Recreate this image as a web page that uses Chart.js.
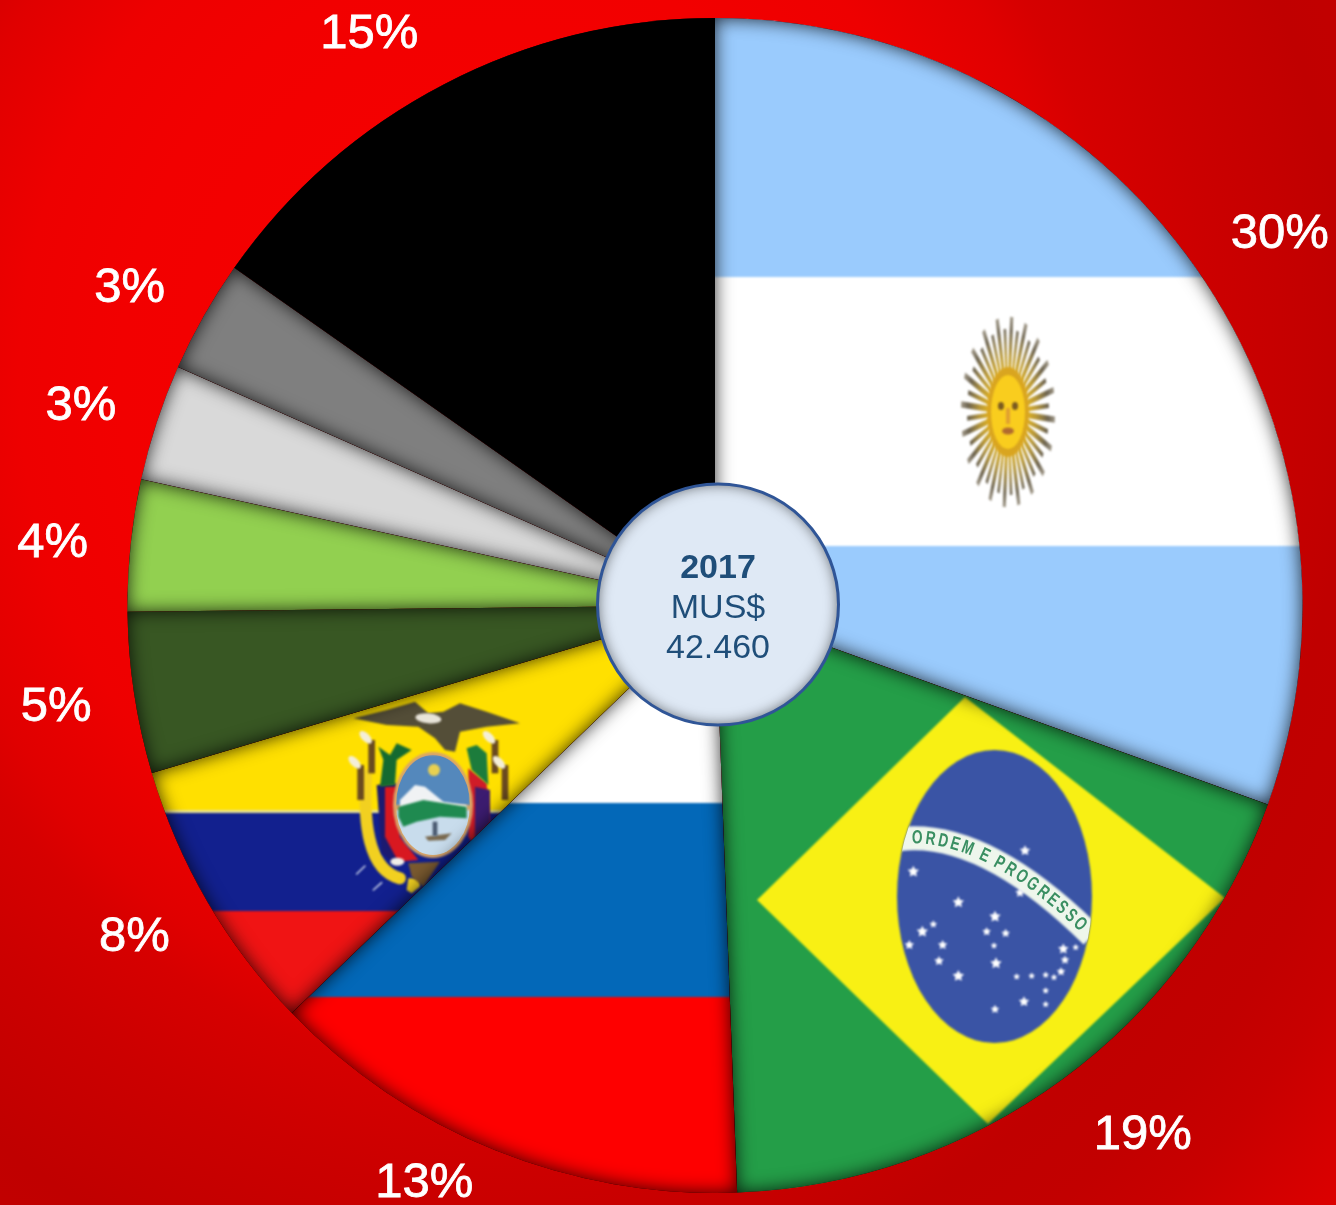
<!DOCTYPE html>
<html><head><meta charset="utf-8">
<style>
html,body{margin:0;padding:0;width:1336px;height:1205px;overflow:hidden;background:#c80000}
canvas{display:block}
</style>
<script src="https://cdn.jsdelivr.net/npm/chart.js@4/dist/chart.umd.min.js"></script>
</head><body><canvas id="c" width="1336" height="1205"></canvas>
<script>
// ---- data ----
const categories = ["Argentina","Brasil","Rusia","Ecuador","Otro A","Otro B","Otro C","Otro D","Resto"];
const shares = [30.5,18.9,13.4,7.6,4.43,3.62,3.2,3.1,15.25];
const shareLabels = ["30%","19%","13%","8%","5%","4%","3%","3%","15%"];
const centerLines = ["2017","MUS$","42.460"];
const bandMotto = "ORDEM E PROGRESSO";

const W=1336,H=1205;
function layer(paint){
  const cv=document.createElement('canvas');cv.width=W;cv.height=H;
  const g=cv.getContext('2d');paint(g);
  return g.createPattern(cv,'no-repeat');
}
function poly(g,pts,fill,ox,oy,s){
  g.beginPath();
  pts.forEach((p,i)=>{const x=ox+p[0]/s,y=oy+p[1]/s;i?g.lineTo(x,y):g.moveTo(x,y);});
  g.closePath();g.fillStyle=fill;g.fill();
}
// each band runs on to the bottom, so the next one is painted over it without a transparent seam
function bands(g,list){ list.forEach(b=>{g.fillStyle=b[1];g.fillRect(-20,b[0],W+40,H+40);}); }

function argentina(g){
  g.filter='blur(1.2px)';
  bands(g,[[-20,'#9acbfd'],[277,'#ffffff'],[546,'#9acbfd']]);
  g.filter='blur(1.3px)';
  const cx=1008,cy=412,n=40;
  g.save();g.translate(cx,cy);g.scale(1,2.03);
  for(let i=0;i<n;i++){
    const a=i/n*Math.PI*2+0.08,wavy=i%2===1;
    g.save();g.rotate(a);
    const grad=g.createLinearGradient(0,0,47,0);
    grad.addColorStop(0.35,'#e8b820');grad.addColorStop(0.6,'#b89838');grad.addColorStop(0.85,'#6d6450');grad.addColorStop(1,'#a09888');
    g.strokeStyle=grad;g.lineWidth=wavy?2.4:3;
    g.beginPath();g.moveTo(14,0);g.lineTo(wavy?41:47,0);g.stroke();
    g.restore();
  }
  g.restore();
  g.filter='blur(1px)';
  g.fillStyle='#d9a520';g.beginPath();g.ellipse(cx,cy,21,45,0,0,7);g.fill();
  g.fillStyle='#f9cd1e';g.beginPath();g.ellipse(cx,cy,17,37,0,0,7);g.fill();
  g.fillStyle='#7a5a20';
  g.beginPath();g.ellipse(cx-7,cy-6,3,4,0,0,7);g.fill();
  g.beginPath();g.ellipse(cx+7,cy-6,3,4,0,0,7);g.fill();
  g.fillStyle='#e0a030';g.fillRect(cx-2,cy-4,4,16);
  g.fillStyle='#b06a30';g.beginPath();g.ellipse(cx,cy+19,6,3.5,0,0,7);g.fill();
  g.filter='none';
}

function brazil(g){
  g.fillStyle='#249e48';g.fillRect(0,0,W,H);
  g.filter='blur(1px)';
  g.fillStyle='#f8f014';g.beginPath();g.moveTo(757,900);g.lineTo(965,697);g.lineTo(1225,898);g.lineTo(988,1124);g.closePath();g.fill();
  const ex=994.5,ey=896.5,rx=97.5,ry=146.5;
  g.fillStyle='#3a54a5';g.beginPath();g.ellipse(ex,ey,rx,ry,0,0,7);g.fill();
  g.save();g.beginPath();g.ellipse(ex,ey,rx,ry,0,0,7);g.clip();
  const p0=[900,839],c=[984.5,829.5],p2=[1092,936];
  g.strokeStyle='#eef6ec';g.lineWidth=24;
  g.beginPath();g.moveTo(p0[0],p0[1]);g.quadraticCurveTo(c[0],c[1],p2[0],p2[1]);g.stroke();
  g.restore();
  g.filter='blur(0.6px)';
  const qp=t=>[(1-t)*(1-t)*p0[0]+2*t*(1-t)*c[0]+t*t*p2[0],(1-t)*(1-t)*p0[1]+2*t*(1-t)*c[1]+t*t*p2[1]];
  g.font='bold 19px "Liberation Sans"';g.fillStyle='#3a8f62';g.textAlign='center';g.textBaseline='middle';
  const N=300,table=[];let L=0,prev=qp(0);
  for(let i=0;i<=N;i++){const p=qp(i/N);L+=Math.hypot(p[0]-prev[0],p[1]-prev[1]);table.push([L,i/N]);prev=p;}
  let dist=10;
  const usable=L-20, total=g.measureText(bandMotto).width, kern=usable/total;
  [...bandMotto].forEach(ch=>{
    const w=g.measureText(ch).width*kern;
    const target=dist+w/2;
    const e=table.find(r=>r[0]>=target)||table[N];
    const t=e[1],p=qp(t),q=qp(Math.min(1,t+0.01)),r=qp(Math.max(0,t-0.01));
    g.save();g.translate(p[0],p[1]);g.rotate(Math.atan2(q[1]-r[1],q[0]-r[0]));g.scale(0.72,1);g.fillText(ch,0,0);g.restore();
    dist+=w;
  });
  g.filter='blur(1px)';
  g.fillStyle='#ffffff';
  [[100,395,6],[235,487,6],[160,553,4],[127,575,6],[88,615,5],[188,615,5],[177,663,5],[235,708,6],
   [345,530,6],[320,575,4.5],[377,580,4.5],[342,617,3.5],[348,670,6],[420,458,5],[435,332,5.5],[410,710,3.5],
   [455,708,3.5],[497,705,3.5],[522,712,3.5],[543,695,4.5],[555,660,4.5],[550,627,5.5],[587,622,3.5],[497,752,3.5],
   [497,793,3.5],[432,785,5.5],[345,808,4.5]].forEach(s=>{
     const x=880+s[0]/3,y=740+s[1]/3,r=s[2];
     g.beginPath();
     for(let i=0;i<10;i++){const a=-Math.PI/2+i*Math.PI/5,q=i%2?r*0.5:r;g.lineTo(x+Math.cos(a)*q,y+Math.sin(a)*q);}
     g.closePath();g.fill();
  });
  g.filter='none';
}

function russia(g){
  g.filter='blur(1px)';
  bands(g,[[-20,'#ffffff'],[803,'#0368b8'],[997,'#fe0000']]);
  g.filter='none';
}

function ecuador(g){
  g.filter='blur(0.9px)';
  bands(g,[[-20,'#ffe000'],[810,'#e8e090'],[813,'#12208e'],[911,'#f01414']]);
  const ox=340,oy=690,s=3;
  g.filter='blur(1px)';
  // yellow strap
  g.strokeStyle='#f2d020';g.lineWidth=12;g.lineCap='round';
  g.beginPath();g.moveTo(ox+78/s,oy+255/s);g.bezierCurveTo(ox+70/s,oy+400/s,ox+85/s,oy+540/s,ox+180/s,oy+565/s);g.stroke();
  // standards
  poly(g,[[110,285],[170,280],[175,530],[125,490]],'#1c1a70',ox,oy,s);
  poly(g,[[135,290],[175,290],[180,440],[235,510],[175,515],[135,440]],'#d81820',ox,oy,s);
  poly(g,[[385,235],[440,280],[450,400],[400,460],[385,440]],'#d01c28',ox,oy,s);
  poly(g,[[405,290],[450,300],[450,400],[405,445]],'#3c1c70',ox,oy,s);
  // palms
  poly(g,[[115,170],[150,195],[170,160],[215,180],[170,210],[165,285],[120,290],[130,210]],'#146a30',ox,oy,s);
  poly(g,[[380,175],[410,165],[440,190],[445,285],[395,240]],'#1c7c3c',ox,oy,s);
  // fasces
  [[95,150,250],[62,225,330],[465,150,250],[495,225,330]].forEach(f=>{
    g.fillStyle='#6a4a20';g.fillRect(ox+(f[0]-10)/s,oy+f[1]/s,20/s,(f[2]-f[1])/s);
    g.fillStyle='#f4eed8';
    g.beginPath();g.ellipse(ox+(f[0]-18)/s,oy+(f[1]-8)/s,8,4,0.8,0,7);g.fill();
  });
  // eagle
  poly(g,[[40,85],[140,60],[225,35],[265,70],[310,65],[360,40],[440,65],[540,100],[440,110],[360,125],[345,185],[315,180],[285,145],[235,110],[140,105]],'#544e38',ox,oy,s);
  g.fillStyle='#e8e4d8';g.beginPath();g.ellipse(ox+265/s,oy+85/s,13,5,0.1,0,7);g.fill();
  // shield
  const cx=433,cy=805,rx=37,ry=50;
  g.fillStyle='#d8a468';g.beginPath();g.ellipse(cx,cy,rx+3,ry+3,0,0,7);g.fill();
  g.save();g.beginPath();g.ellipse(cx,cy,rx,ry,0,0,7);g.clip();
  g.fillStyle='#5488bc';g.fillRect(cx-rx,cy-ry,2*rx,50);
  g.fillStyle='#c8dcec';g.fillRect(cx-rx,cy+5,2*rx,ry);
  poly(g,[[180,330],[225,285],[255,290],[310,335],[380,345],[380,360],[180,360]],'#f0f2f4',ox,oy,s);
  poly(g,[[175,350],[250,330],[380,350],[380,385],[300,380],[230,395],[190,410],[175,380]],'#1f8a50',ox,oy,s);
  g.strokeStyle='#e8ecd8';g.lineWidth=2;g.beginPath();g.arc(cx,cy-22,36,Math.PI*1.1,Math.PI*1.9);g.stroke();
  g.fillStyle='#e8d050';g.beginPath();g.arc(ox+282/s,oy+240/s,6,0,7);g.fill();
  poly(g,[[255,440],[335,430],[315,450],[265,452]],'#7a6a50',ox,oy,s);
  poly(g,[[278,395],[292,395],[292,438],[278,438]],'#4a5a70',ox,oy,s);
  g.restore();
  // ornaments
  poly(g,[[205,565],[240,565],[240,590],[215,610],[200,600]],'#f0d020',ox,oy,s);
  poly(g,[[205,520],[300,515],[250,590],[215,560]],'#7a5a30',ox,oy,s);
  g.fillStyle='#f0eee8';g.beginPath();g.ellipse(ox+172/s,oy+515/s,7,4,0,0,7);g.fill();
  g.strokeStyle='#d0d8ec';g.lineWidth=1.5;
  g.beginPath();g.moveTo(ox+50/s,oy+552/s);g.lineTo(ox+75/s,oy+528/s);g.moveTo(ox+100/s,oy+600/s);g.lineTo(ox+125/s,oy+578/s);g.stroke();
  g.filter='none';
}

const sliceFills=[layer(argentina),layer(brazil),layer(russia),layer(ecuador),'#385723','#92d050','#d9d9d9','#7f7f7f','#000000'];

const labelFont='49px "Liberation Sans"';
const labelNudges=[[84,-33],[81,56],[-71,33],[-73,36],[-78,14],[-78,-2],[-76,-16],[-74,-28],[-75,-50]];

const overlay={
  id:'overlay',
  afterDatasetsDraw(chart){
    const ctx=chart.ctx,arcs=chart.getDatasetMeta(0).data;
    // soft inner shadow of each slice
    arcs.forEach(a=>{
      const {x,y,startAngle,endAngle,outerRadius:r}=a.getProps(['x','y','startAngle','endAngle','outerRadius']);
      const wedge=()=>{const p=new Path2D();p.moveTo(x,y);p.arc(x,y,r,startAngle,endAngle);p.closePath();return p;};
      ctx.save();
      ctx.clip(wedge());
      const outer=new Path2D();outer.rect(-50,-50,W+100,H+100);outer.addPath(wedge());
      ctx.shadowColor='rgba(0,0,0,0.8)';ctx.shadowBlur=18;
      ctx.fillStyle='#000';
      ctx.fill(outer,'evenodd');
      ctx.restore();
    });
    // share labels
    ctx.save();
    ctx.font=labelFont;ctx.fillStyle='#fff';ctx.strokeStyle='#fff';ctx.lineWidth=0.8;ctx.textAlign='center';ctx.textBaseline='middle';
    arcs.forEach((a,i)=>{
      const {x,y,startAngle,endAngle,outerRadius:r}=a.getProps(['x','y','startAngle','endAngle','outerRadius']);
      const m=(startAngle+endAngle)/2;
      const lx=x+Math.cos(m)*r+labelNudges[i][0],ly=y+Math.sin(m)*r+labelNudges[i][1];
      ctx.fillText(shareLabels[i],lx,ly);
      ctx.strokeText(shareLabels[i],lx,ly);
    });
    ctx.restore();
    // centre disc
    const cx=arcs[0].x+3,cy=arcs[0].y-1;
    const disc=new Path2D();disc.arc(cx,cy,120.5,0,Math.PI*2);
    ctx.save();
    ctx.fillStyle='#dfe9f5';ctx.fill(disc);
    ctx.save();ctx.clip(disc);
    const ring=new Path2D();ring.rect(-50,-50,W+100,H+100);ring.addPath(disc);
    ctx.shadowColor='rgba(0,0,0,0.6)';ctx.shadowBlur=14;ctx.fillStyle='#000';ctx.fill(ring,'evenodd');
    ctx.restore();
    ctx.strokeStyle='#2f5597';ctx.lineWidth=3;ctx.stroke(disc);
    ctx.fillStyle='#1f4e79';ctx.textAlign='center';ctx.textBaseline='alphabetic';
    ctx.font='bold 34px "Liberation Sans"';ctx.fillText(centerLines[0],cx,cy-27);
    ctx.font='34px "Liberation Sans"';ctx.fillText(centerLines[1],cx,cy+13);
    ctx.fillText(centerLines[2],cx,cy+53);
    ctx.restore();
  }
};

// page backdrop
document.documentElement.style.background='radial-gradient(ellipse 1118px 1242px at 500px 380px,#f80000 0%,#f20000 34%,#ee0000 43%,#e0000 52%,#e00000 52%,#d60000 56%,#cc0000 64%,#c00000 76%,#c20000 83%,#c80000 89%,#dc0000 100%)'.replace('#e0000 52%,','');
document.body.style.background='transparent';

new Chart(document.getElementById('c'),{
  type:'pie',
  data:{labels:categories,datasets:[{data:shares,backgroundColor:sliceFills,borderWidth:0,hoverOffset:0}]},
  options:{
    responsive:false,animation:false,
    layout:{padding:{left:127,right:33,top:18,bottom:12}},
    plugins:{legend:{display:false},tooltip:{enabled:false}}
  },
  plugins:[overlay]
});
</script>
</body></html>
